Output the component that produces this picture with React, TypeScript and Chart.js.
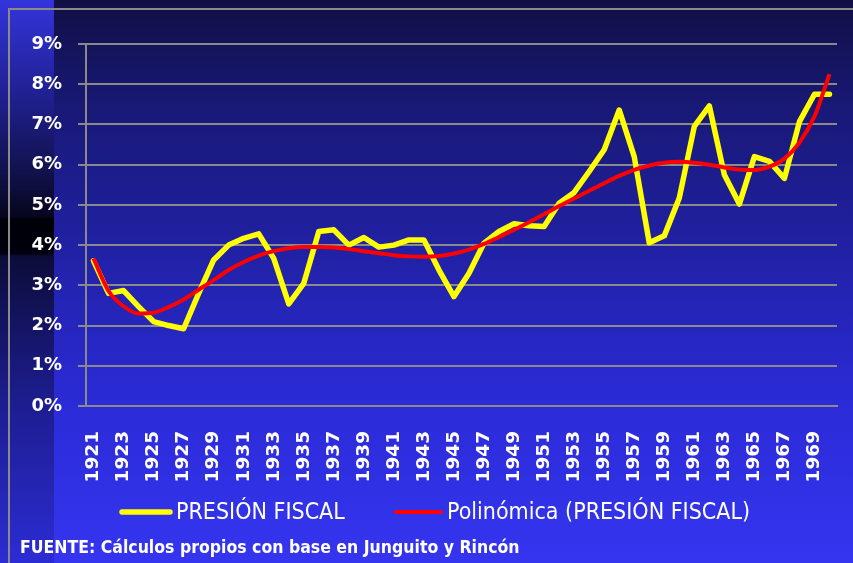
import React, { useEffect, useRef } from "react";
import { Chart, registerables } from "chart.js";

Chart.register(...registerables);

const years = [
  "1921", "1922", "1923", "1924", "1925", "1926", "1927", "1928", "1929", "1930",
  "1931", "1932", "1933", "1934", "1935", "1936", "1937", "1938", "1939", "1940",
  "1941", "1942", "1943", "1944", "1945", "1946", "1947", "1948", "1949", "1950",
  "1951", "1952", "1953", "1954", "1955", "1956", "1957", "1958", "1959", "1960",
  "1961", "1962", "1963", "1964", "1965", "1966", "1967", "1968", "1969", "1970",
];

const presionFiscal = [
  3.61, 2.80, 2.87, 2.47, 2.10, 2.00, 1.92, 2.80, 3.63, 4.00,
  4.17, 4.28, 3.67, 2.54, 3.05, 4.34, 4.38, 4.00, 4.19, 3.95,
  4.00, 4.13, 4.13, 3.38, 2.72, 3.30, 4.05, 4.34, 4.53, 4.48,
  4.46, 5.04, 5.31, 5.83, 6.37, 7.36, 6.20, 4.06, 4.23, 5.17,
  6.95, 7.46, 5.75, 5.02, 6.20, 6.08, 5.66, 7.07, 7.75, 7.75,
];

const polinomica = [
  3.67, 2.86, 2.48, 2.30, 2.32, 2.46, 2.65, 2.89, 3.13, 3.38,
  3.58, 3.74, 3.85, 3.92, 3.95, 3.95, 3.94, 3.90, 3.85, 3.80,
  3.75, 3.72, 3.71, 3.73, 3.79, 3.89, 4.03, 4.20, 4.38, 4.57,
  4.77, 4.97, 5.16, 5.35, 5.54, 5.72, 5.87, 5.98, 6.05, 6.07,
  6.05, 6.00, 5.93, 5.88, 5.87, 5.95, 6.15, 6.55, 7.20, 8.25,
];

const yTicks = [0, 1, 2, 3, 4, 5, 6, 7, 8, 9];
const seriesNames = ["PRESIÓN FISCAL", "Polinómica (PRESIÓN FISCAL)"];
const footerText = "FUENTE: Cálculos propios con base en Junguito y Rincón";

const NARROW = '"Liberation Sans Narrow", "DejaVu Sans Condensed", "Liberation Sans", sans-serif';
const WIDE = '"DejaVu Sans", "Liberation Sans", sans-serif';
const GRID = "#8a8a8a";
const YELLOW = "#ffff00";
const RED = "#ff0000";

const backgroundPlugin = {
  id: "bgPlugin",
  beforeDraw(chart: any) {
    const { ctx, width, height } = chart;
    ctx.save();
    const g = ctx.createLinearGradient(0, 0, 0, height);
    g.addColorStop(0, "#110f44");
    g.addColorStop(0.18, "#181874");
    g.addColorStop(0.45, "#2121a6");
    g.addColorStop(0.72, "#2b2bd8");
    g.addColorStop(1, "#3535f0");
    ctx.fillStyle = g;
    ctx.fillRect(0, 0, width, height);

    const s = ctx.createLinearGradient(0, 0, 0, height);
    s.addColorStop(0, "#3434dc");
    s.addColorStop(0.15, "#22229a");
    s.addColorStop(0.3, "#121250");
    s.addColorStop(0.385, "#06061e");
    s.addColorStop(0.39, "#000008");
    s.addColorStop(0.45, "#00000e");
    s.addColorStop(0.455, "#0c0c3a");
    s.addColorStop(0.7, "#1c1c8c");
    s.addColorStop(1, "#2c2cd4");
    ctx.fillStyle = s;
    ctx.fillRect(0, 0, 54, height);

    ctx.strokeStyle = GRID;
    ctx.lineWidth = 2;
    ctx.beginPath();
    ctx.moveTo(width, 9);
    ctx.lineTo(9, 9);
    ctx.lineTo(9, height);
    ctx.stroke();
    ctx.restore();
  },
  afterDraw(chart: any) {
    const { ctx } = chart;
    ctx.save();
    // legend
    const ly = 512;
    const items = [
      { color: YELLOW, x0: 122, x1: 170, w: 5.5, tx: 176, text: chart.data.datasets[0].label },
      { color: RED, x0: 396, x1: 441, w: 4, tx: 447, text: chart.data.datasets[1].label },
    ];
    ctx.lineCap = "round";
    items.forEach((it) => {
      ctx.strokeStyle = it.color;
      ctx.lineWidth = it.w;
      ctx.beginPath();
      ctx.moveTo(it.x0, ly);
      ctx.lineTo(it.x1, ly);
      ctx.stroke();
      ctx.fillStyle = "#ffffff";
      ctx.font = `23px ${NARROW}`;
      ctx.textBaseline = "middle";
      ctx.textAlign = "left";
      ctx.fillText(it.text, it.tx, ly + 1);
    });
    // footer
    ctx.fillStyle = "#ffffff";
    ctx.font = `bold 17.5px ${NARROW}`;
    ctx.textBaseline = "middle";
    ctx.textAlign = "left";
    ctx.fillText(footerText, 20, 548);
    ctx.restore();
  },
};

export default function App() {
  const canvasRef = useRef<HTMLCanvasElement | null>(null);

  useEffect(() => {
    document.body.style.margin = "0";
    const canvas = canvasRef.current;
    if (!canvas) return;
    const chart = new Chart(canvas, {
      type: "line",
      data: {
        labels: years,
        datasets: [
          {
            label: seriesNames[0],
            data: presionFiscal,
            borderColor: YELLOW,
            backgroundColor: YELLOW,
            borderWidth: 5.5,
            pointRadius: 0,
            tension: 0,
            borderJoinStyle: "round",
            borderCapStyle: "round",
            order: 1,
          },
          {
            label: seriesNames[1],
            data: polinomica,
            borderColor: RED,
            backgroundColor: RED,
            borderWidth: 4,
            pointRadius: 0,
            cubicInterpolationMode: "monotone",
            order: 0,
          },
        ],
      },
      options: {
        animation: false,
        responsive: false,
        layout: { padding: { left: 16, right: 16, top: 44, bottom: 73 } },
        plugins: {
          tooltip: { enabled: false },
          legend: { display: false },
        },
        scales: {
          x: {
            offset: true,
            grid: {
              display: true,
              drawOnChartArea: false,
              color: "rgba(0,0,0,0)",
              tickLength: 14,
            },
            border: { display: true, color: GRID, width: 2 },
            ticks: {
              autoSkip: false,
              maxRotation: 90,
              minRotation: 90,
              padding: 11,
              color: "#ffffff",
              font: { family: WIDE, size: 18.5, weight: "bold" },
              callback: (_v: any, i: number) => (i % 2 === 0 ? years[i] : ""),
            },
            afterFit: (scale: any) => {
              scale.height = 84;
              scale.paddingLeft = 0;
              scale.paddingRight = 0;
            },
          },
          y: {
            min: yTicks[0],
            max: yTicks[yTicks.length - 1],
            grid: { color: GRID, lineWidth: 2, tickLength: 8, drawTicks: true },
            border: { display: true, color: GRID, width: 2 },
            ticks: {
              stepSize: 1,
              padding: 16,
              color: "#ffffff",
              font: { family: WIDE, size: 18, weight: "bold" },
              callback: (v: any) => `${v}%`,
            },
            afterFit: (scale: any) => {
              scale.width = 70;
            },
          },
        },
      },
      plugins: [backgroundPlugin],
    });
    return () => chart.destroy();
  }, []);

  return (
    <div style={{ width: 853, height: 563 }}>
      <canvas ref={canvasRef} width={853} height={563} style={{ display: "block" }} />
    </div>
  );
}
